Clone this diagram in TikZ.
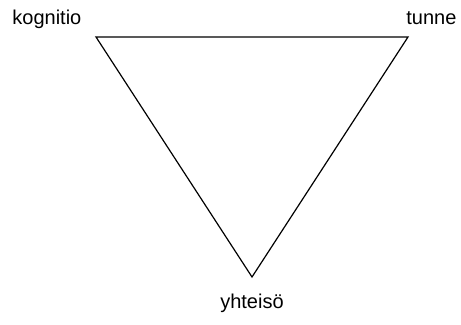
\documentclass[tikz,border=0pt]{standalone}
\usepackage{fontspec}
\setmainfont{Liberation Sans}
\begin{document}
\begin{tikzpicture}[x=0.5pt, y=-0.5pt, every node/.style={font=\fontsize{10}{12}\selectfont, inner sep=0pt}]
  \useasboundingbox (0,0) rectangle (461,325);
  % Kolmion karjet
  \coordinate (kog) at (96,37);
  \coordinate (tun) at (408,37);
  \coordinate (yht) at (252,277);
  \draw[line width=0.6pt, line join=miter] (kog) -- (tun) -- (yht) -- cycle;
  % Nimet
  \node[anchor=base west] (kognitio) at (12,25) {kognitio};
  \node[anchor=base west] (tunne) at (406,25) {tunne};
  \node[anchor=base] (yhteiso) at (252,309) {yhteisö};
\end{tikzpicture}
\end{document}
